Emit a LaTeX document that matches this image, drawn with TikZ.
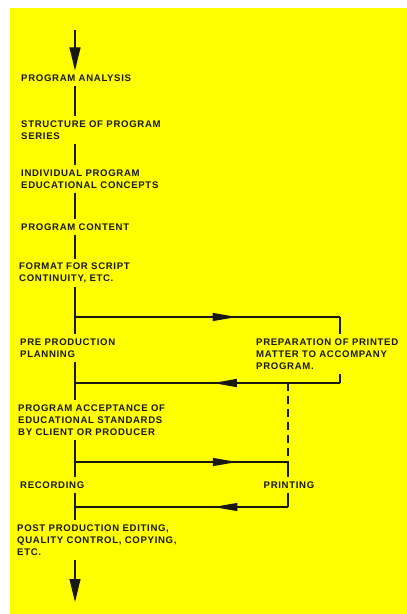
\documentclass[tikz,border=0pt]{standalone}
\usepackage{fontspec}
\setmainfont{Liberation Sans}[LetterSpace=7]
\usetikzlibrary{arrows.meta,decorations.markings}
\definecolor{sheet}{RGB}{255,255,0}
\definecolor{ink}{RGB}{25,25,20}

\begin{document}
\begin{tikzpicture}[x=1pt, y=-1pt,
    every node/.style={font=\bfseries\fontsize{9.6}{12}\selectfont, text=ink, align=left, inner xsep=0pt, inner ysep=4pt},
    flow/.style={line width=1.1pt, draw=ink},
    downarrow/.style={flow, -{Triangle[length=23pt,width=11pt]}},
    midarrow/.style={flow, postaction={decorate}, decoration={markings, mark=at position #1 with {\arrow{Triangle[length=24pt,width=8pt]}}}},
    dashline/.style={flow, dash pattern=on 8pt off 5pt}]
                            \useasboundingbox (0,0) rectangle (407,614);
                            \fill[sheet] (10,8) rectangle (407,614);

                            \coordinate (start) at (75,30);
                            \coordinate (end) at (75,602);
                            \coordinate (j1) at (75,317);
                            \coordinate (j2) at (75,383);
                            \coordinate (j3) at (75,462);
                            \coordinate (j4) at (75,507);
                            \coordinate (r1) at (340,317);
                            \coordinate (r2) at (340,383);
                            \coordinate (p1) at (288,383);
                            \coordinate (p2) at (288,462);
                            \coordinate (p3) at (288,507);

                            \node[anchor=west] (analysis) at (21,78) {PROGRAM ANALYSIS};
                            \node[anchor=west] (structure) at (21,130) {STRUCTURE OF PROGRAM\\SERIES};
                            \node[anchor=west] (concepts) at (21,179) {INDIVIDUAL PROGRAM\\EDUCATIONAL CONCEPTS};
                            \node[anchor=west] (content) at (21,227) {PROGRAM CONTENT};
                            \node[anchor=west] (format) at (19,273) {FORMAT FOR SCRIPT\\CONTINUITY, ETC.};
                            \node[anchor=west] (planning) at (20,348) {PRE PRODUCTION\\PLANNING};
                            \node[anchor=west] (printed) at (256,354) {PREPARATION OF PRINTED\\MATTER TO ACCOMPANY\\PROGRAM.};
                            \node[anchor=west] (acceptance) at (18,420) {PROGRAM ACCEPTANCE OF\\EDUCATIONAL STANDARDS\\BY CLIENT OR PRODUCER};
                            \node[anchor=west] (recording) at (20,485) {RECORDING};
                            \node (printing) at (289,485) {PRINTING};
                            \node[anchor=west] (post) at (17,540) {POST PRODUCTION EDITING,\\QUALITY CONTROL, COPYING,\\ETC.};

                            \draw[downarrow] (start) -- (analysis.north -| start);
                            \draw[flow] (analysis.south -| start) -- (structure.north -| start);
                            \draw[flow] (structure.south -| start) -- (concepts.north -| start);
                            \draw[flow] (concepts.south -| start) -- (content.north -| start);
                            \draw[flow] (content.south -| start) -- (format.north -| start);
                            \draw[flow] (format.south -| start) -- (planning.north -| start);
                            \draw[flow] (planning.south -| start) -- (acceptance.north -| start);
                            \draw[flow] (acceptance.south -| start) -- (recording.north -| start);
                            \draw[flow] (recording.south -| start) -- (post.north -| start);
                            \draw[downarrow] (post.south -| start) -- (end);

                            \draw[midarrow=0.61] (j1) -- (r1);
                            \draw[flow] (r1) -- (printed.north -| r1);
                            \draw[flow] (printed.south -| r2) -- (r2);
                            \draw[midarrow=0.48] (r2) -- (j2);
                            \draw[dashline] (p1) -- (p2);
                            \draw[midarrow=0.76] (j3) -- (p2);
                            \draw[flow] (p2) -- (printing.north -| p2);
                            \draw[flow] (printing.south -| p3) -- (p3);
                            \draw[midarrow=0.35] (p3) -- (j4);
                        \end{tikzpicture}
\end{document}
